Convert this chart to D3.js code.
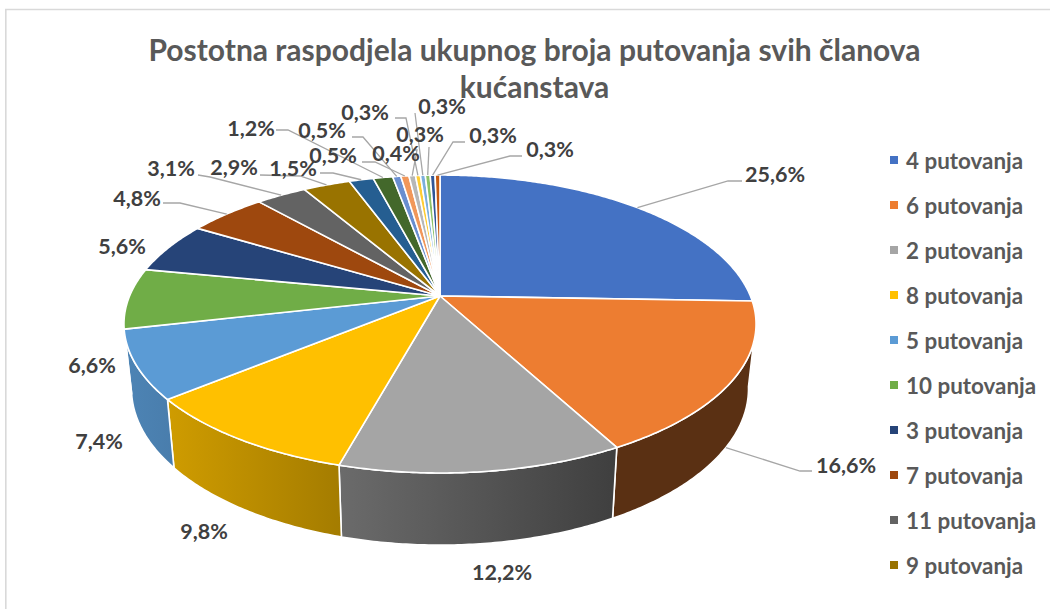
<!DOCTYPE html>
<html><head><meta charset="utf-8">
<script src="https://cdn.jsdelivr.net/npm/d3@7"></script>
<style>html,body{margin:0;padding:0;background:#fff}svg{display:block}text{font-family:Lato,"Open Sans",sans-serif;font-weight:700}</style>
</head><body><svg id="c" width="1050" height="609"></svg>
<script>
const titleLines = ["Postotna raspodjela ukupnog broja putovanja svih članova", "kućanstava"];
const categories = ["4 putovanja","6 putovanja","2 putovanja","8 putovanja","5 putovanja","10 putovanja","3 putovanja","7 putovanja","11 putovanja","9 putovanja","1 putovanje","12 putovanja","13 putovanja","14 putovanja","15 putovanja","16 putovanja","18 putovanja","20 putovanja","17 putovanja","21 putovanje"];
const values = [25.6,16.6,12.2,9.8,7.4,6.6,5.6,4.8,3.1,2.9,1.5,1.2,0.5,0.5,0.4,0.3,0.3,0.3,0.3,0.3];
const colours = ["#4472C4","#ED7D31","#A5A5A5","#FFC000","#5B9BD5","#70AD47","#264478","#9E480E","#636363","#997300","#255E91","#43682B","#698ED0","#F1975A","#B7B7B7","#FFCD33","#7CAFDD","#8CC168","#2F5597","#C55A11"];
const legendCount = 10;

// label layout: [label centre x, centre y, leader start x, y, elbow x, y] (no leader when short)
const labelLayout = [
 [775,174, 742,181, 728,181],[846,465, 812,471, 800,471],[502,572],[204,531],[99,441],[92,365],[122,246],
 [137,198, 163,203, 180,203],[171,168, 198,175, 210,177],[234,167, 260,175, 300,176],[293,168, 320,173, 333,173],
 [251,128, 276,130, 288,130],[322,130, 352,137, 363,137],[333,155, 362,162, 375,162],[396,153, 414,150, 417,150],
 [365,112, 395,118, 406,118],[442,106, 415,113, 415,113],[420,134, 429,147, 429,147],[493,135, 465,142, 453,142],[550,149, 522,156, 510,156]
];

const W=1050,H=609;
const svg=d3.select("#c");
const defs=svg.append("defs");

// chart-frame edges visible in the reference
svg.append("path").attr("d",line0()).attr("fill","none").attr("stroke","#D9D9D9").attr("stroke-width",1.6);
function line0(){return d3.line()([[5.8,H],[5.8,9.5],[W,9.5]]);}

// perspective planes for the tilted pie
const topPlane={x0:440,y0:296,D:310.4,A:143.7,c:-0.188};
const botPlane={x0:440,y0:359.4,D:303,A:150.8,c:-0.188};
function project(p,a){
  const u=Math.sin(a),v=-Math.cos(a),d=1+p.c*v;
  return [p.x0+p.D*u/d,p.y0+p.A*v/d];
}
function rim(p,a0,a1){
  const n=Math.max(2,Math.ceil(Math.abs(a1-a0)/0.01)),out=[];
  for(let i=0;i<=n;i++) out.push(project(p,a0+(a1-a0)*i/n));
  return out;
}
const pieGen=d3.pie().sort(null).value(d=>d);
const arcs=pieGen(values);
const deg=Math.PI/180, wallStart=100*deg, wallEnd=257.9*deg;
const shade=d3.scaleLinear().domain([130,612]).range([0.85,0.38]).clamp(true);
const line=d3.line();

// walls
const gWalls=svg.append("g");
arcs.forEach((d,i)=>{
  const a0=Math.max(d.startAngle,wallStart),a1=Math.min(d.endAngle,wallEnd);
  if(a1-a0<=0.001) return;
  const t=rim(topPlane,a0,a1),b=rim(botPlane,a1,a0);
  const xs=t.concat(b).map(p=>p[0]);
  const x0=d3.min(xs),x1=d3.max(xs),base=d3.color(colours[i]);
  const mix=f=>d3.rgb(base.r*f,base.g*f,base.b*f).formatHex();
  const id="w"+i,gr=defs.append("linearGradient").attr("id",id).attr("gradientUnits","userSpaceOnUse")
    .attr("x1",x0).attr("x2",x1).attr("y1",0).attr("y2",0);
  gr.append("stop").attr("offset",0).attr("stop-color",mix(shade(x0)));
  gr.append("stop").attr("offset",1).attr("stop-color",mix(shade(x1)));
  gWalls.append("path").attr("d",line(t.concat(b))+"Z").attr("fill",`url(#${id})`)
    .attr("stroke","#fff").attr("stroke-width",1.6).attr("stroke-linejoin","round");
});

// top face
const gTop=svg.append("g");
const apex=[topPlane.x0,topPlane.y0];
arcs.forEach((d,i)=>{
  gTop.append("path").attr("d",line([apex].concat(rim(topPlane,d.startAngle,d.endAngle)))+"Z")
    .attr("fill",colours[i]).attr("stroke","#fff").attr("stroke-width",1.6).attr("stroke-linejoin","round");
});

// labels and leaders
const fmt=v=>v.toFixed(1).replace(".",",")+"%";
const gLab=svg.append("g");
arcs.forEach((d,i)=>{
  const L=labelLayout[i];
  if(L.length>2){
    const m=(d.startAngle+d.endAngle)/2;
    const end=project(i===1?botPlane:topPlane,m);
    gLab.append("path").attr("d",line([[L[2],L[3]],[L[4],L[5]],end])).attr("fill","none")
      .attr("stroke","#A6A6A6").attr("stroke-width",1.3);
  }
});
arcs.forEach((d,i)=>{
  const L=labelLayout[i];
  gLab.append("text").attr("x",L[0]).attr("y",L[1]).attr("text-anchor","middle").attr("dominant-baseline","central")
    .attr("font-size",21.5).attr("fill","#404040").text(fmt(values[i]));
});

// title
svg.append("g").selectAll("text").data(titleLines).join("text")
  .attr("x",534.5).attr("y",(d,i)=>61+i*37).attr("text-anchor","middle")
  .attr("font-size",30).attr("fill","#595959").text(d=>d);

// legend
const legY=d3.scalePoint().domain(categories.slice(0,legendCount)).range([160,565]);
const gLeg=svg.append("g").selectAll("g").data(categories.slice(0,legendCount)).join("g")
  .attr("transform",d=>`translate(890,${legY(d)})`);
gLeg.append("rect").attr("x",0).attr("y",-4).attr("width",8).attr("height",8).attr("fill",(d,i)=>colours[i]);
gLeg.append("text").attr("x",16).attr("y",0).attr("dominant-baseline","central").attr("font-size",22.4).attr("fill","#595959").text(d=>d);
</script></body></html>
